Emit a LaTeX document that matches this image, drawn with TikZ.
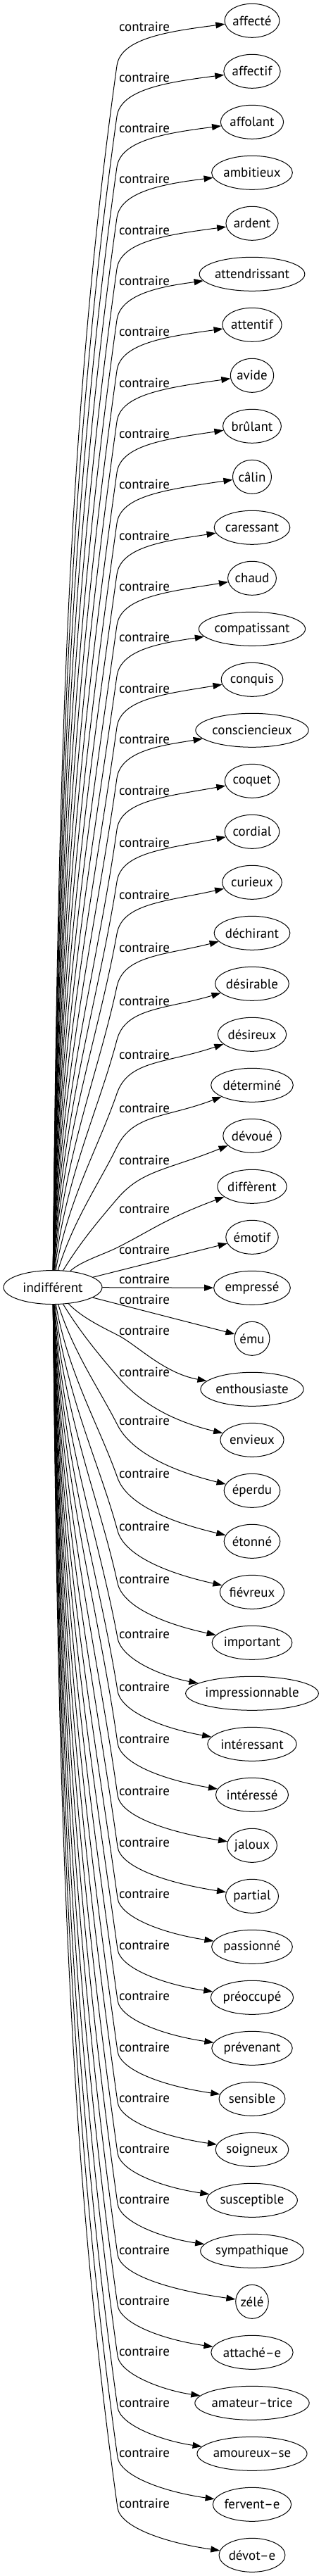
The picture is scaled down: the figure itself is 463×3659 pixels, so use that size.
\documentclass[tikz,border=0pt]{standalone}
\usepackage{fontspec}
\setmainfont{PT Sans}
\usetikzlibrary{shapes.geometric,arrows.meta}
\newlength\qcw
\newlength\qtw
\newcommand\qfont{\fontsize{\qfs}{\qfs}\selectfont}
\tikzset{
  tgt/.style={draw, ellipse, inner sep=0pt, minimum height=48pt, line width=1pt, font=\qfont},
  lbl/.style={inner sep=0pt, font=\qfont},
  edge/.style={line width=1pt, -{Triangle[length=13pt,width=9pt]}},
}
\newcommand\tnode[3]{%
  \settowidth\qtw{\qfont #3}%
  \pgfmathsetmacro\qew{1.19*\qtw+36.5}%
  \node[tgt, minimum width=\qew pt] (#1) at (358,#2) {#3};%
}
\newcommand\upedge[4]{%
  \pgfmathsetmacro\qKy{#3+55}%
  \pgfmathsetmacro\qD{1804.5-\qKy}%
  \pgfmathsetmacro\qg{min(1,120/\qD)}%
  \pgfmathsetmacro\qs{min(2,max(0.14,86/\qD))}%
  \pgfmathsetmacro\qh{0.3*\qD}%
  \pgfmathsetmacro\qax{80+34.4*\qg}%
  \pgfmathsetmacro\qay{1804.5-0.4*\qD}%
  \pgfmathsetmacro\qbx{166-\qs*\qh}%
  \pgfmathsetmacro\qby{\qKy+\qh}%
  \pgfmathsetmacro\qd{0.6*(\qKy-#2)}%
  \pgfmathsetmacro\qn{sqrt(1+\qs*\qs)}%
  \pgfmathsetmacro\qcx{166+\qd*\qs/\qn}%
  \pgfmathsetmacro\qcy{\qKy-\qd/\qn}%
  \pgfmathsetmacro\qty{#3+4+0.3*(#3-#2)}%
  \draw[edge] (c) .. controls (\qax,\qay) and (\qbx,\qby) .. (166,\qKy) .. controls (\qcx,\qcy) and (235,\qty) .. (#1);%
  \node[lbl] (#4) at (205,#3) {contraire};%
}
\newcommand\downedge[4]{%
  \pgfmathsetmacro\qKy{#3+6}%
  \pgfmathsetmacro\qD{\qKy-1852.5}%
  \pgfmathsetmacro\qg{min(1,120/\qD)}%
  \pgfmathsetmacro\qs{min(2,max(0.14,87/\qD))}%
  \pgfmathsetmacro\qh{0.3*\qD}%
  \pgfmathsetmacro\qax{80+34.8*\qg}%
  \pgfmathsetmacro\qay{1852.5+0.4*\qD}%
  \pgfmathsetmacro\qbx{167-\qs*\qh}%
  \pgfmathsetmacro\qby{\qKy-\qh}%
  \pgfmathsetmacro\qd{0.4*(#2-\qKy)}%
  \pgfmathsetmacro\qn{sqrt(1+\qs*\qs)}%
  \pgfmathsetmacro\qcx{167+\qd*\qs/\qn}%
  \pgfmathsetmacro\qcy{\qKy+\qd/\qn}%
  \pgfmathsetmacro\qty{#2-18-0.5*max(0,#2-#3-73)}%
  \draw[edge] (c) .. controls (\qax,\qay) and (\qbx,\qby) .. (167,\qKy) .. controls (\qcx,\qcy) and (232,\qty) .. (#1);%
  \node[lbl] (#4) at (205,#3) {contraire};%
}
\begin{document}
\settowidth\qcw{\fontsize{10}{12}\selectfont contraire}%
\pgfmathsetmacro\qfs{720/\qcw}%
\begin{tikzpicture}[x=1pt,y=-1pt]
\fill[white] (0,0) rectangle (463,3659);
\useasboundingbox (0,0) rectangle (463,3659);
\node[tgt, minimum width=140pt] (c) at (75,1828.5) {indifférent};
\tnode{t1}{29.3}{affecté}
\tnode{t2}{101.3}{affectif}
\tnode{t3}{173.3}{affolant}
\tnode{t4}{245.3}{ambitieux}
\tnode{t5}{317.3}{ardent}
\tnode{t6}{389.3}{attendrissant}
\tnode{t7}{461.3}{attentif}
\tnode{t8}{533.3}{avide}
\tnode{t9}{605.3}{brûlant}
\tnode{t10}{677.3}{câlin}
\tnode{t11}{749.3}{caressant}
\tnode{t12}{821.3}{chaud}
\tnode{t13}{893.3}{compatissant}
\tnode{t14}{965.3}{conquis}
\tnode{t15}{1037.3}{consciencieux}
\tnode{t16}{1109.3}{coquet}
\tnode{t17}{1181.3}{cordial}
\tnode{t18}{1253.3}{curieux}
\tnode{t19}{1325.3}{déchirant}
\tnode{t20}{1397.3}{désirable}
\tnode{t21}{1469.3}{désireux}
\tnode{t22}{1541.3}{déterminé}
\tnode{t23}{1613.3}{dévoué}
\tnode{t24}{1685.3}{diffèrent}
\tnode{t25}{1757.3}{émotif}
\tnode{t26}{1829.3}{empressé}
\tnode{t27}{1901.3}{ému}
\tnode{t28}{1973.3}{enthousiaste}
\tnode{t29}{2045.3}{envieux}
\tnode{t30}{2117.3}{éperdu}
\tnode{t31}{2189.3}{étonné}
\tnode{t32}{2261.3}{fiévreux}
\tnode{t33}{2333.3}{important}
\tnode{t34}{2405.3}{impressionnable}
\tnode{t35}{2477.3}{intéressant}
\tnode{t36}{2549.3}{intéressé}
\tnode{t37}{2621.3}{jaloux}
\tnode{t38}{2693.3}{partial}
\tnode{t39}{2765.3}{passionné}
\tnode{t40}{2837.3}{préoccupé}
\tnode{t41}{2909.3}{prévenant}
\tnode{t42}{2981.3}{sensible}
\tnode{t43}{3053.3}{soigneux}
\tnode{t44}{3125.3}{susceptible}
\tnode{t45}{3197.3}{sympathique}
\tnode{t46}{3269.3}{zélé}
\tnode{t47}{3341.3}{attaché–e}
\tnode{t48}{3413.3}{amateur–trice}
\tnode{t49}{3485.3}{amoureux–se}
\tnode{t50}{3557.3}{fervent–e}
\tnode{t51}{3629.3}{dévot–e}
\upedge{t1}{29.3}{38.3}{l1}
\upedge{t2}{101.3}{110.3}{l2}
\upedge{t3}{173.3}{182.3}{l3}
\upedge{t4}{245.3}{254.3}{l4}
\upedge{t5}{317.3}{326.8}{l5}
\upedge{t6}{389.3}{399.3}{l6}
\upedge{t7}{461.3}{471.3}{l7}
\upedge{t8}{533.3}{543.8}{l8}
\upedge{t9}{605.3}{616.3}{l9}
\upedge{t10}{677.3}{688.3}{l10}
\upedge{t11}{749.3}{760.8}{l11}
\upedge{t12}{821.3}{833.3}{l12}
\upedge{t13}{893.3}{905.3}{l13}
\upedge{t14}{965.3}{977.8}{l14}
\upedge{t15}{1037.3}{1050.3}{l15}
\upedge{t16}{1109.3}{1123.3}{l16}
\upedge{t17}{1181.3}{1197.3}{l17}
\upedge{t18}{1253.3}{1271.3}{l18}
\upedge{t19}{1325.3}{1346.3}{l19}
\upedge{t20}{1397.3}{1422.3}{l20}
\upedge{t21}{1469.3}{1498.3}{l21}
\upedge{t22}{1541.3}{1574.3}{l22}
\upedge{t23}{1613.3}{1648.3}{l23}
\upedge{t24}{1685.3}{1717.3}{l24}
\draw[edge] (c) -- (t25);
\node[lbl] (l25) at (205,1775.3) {contraire};
\draw[edge] (c) -- (t26);
\node[lbl] (l26) at (205,1817.3) {contraire};
\draw[edge] (c) -- (t27);
\node[lbl] (l27) at (205,1846.3) {contraire};
\downedge{t28}{1973.3}{1890.3}{l28}
\downedge{t29}{2045.3}{1949.3}{l29}
\downedge{t30}{2117.3}{2018.3}{l30}
\downedge{t31}{2189.3}{2093.3}{l31}
\downedge{t32}{2261.3}{2168.3}{l32}
\downedge{t33}{2333.3}{2242.7}{l33}
\downedge{t34}{2405.3}{2320.7}{l34}
\downedge{t35}{2477.3}{2395.7}{l35}
\downedge{t36}{2549.3}{2470.0}{l36}
\downedge{t37}{2621.3}{2544.0}{l37}
\downedge{t38}{2693.3}{2617.3}{l38}
\downedge{t39}{2765.3}{2690.3}{l39}
\downedge{t40}{2837.3}{2762.8}{l40}
\downedge{t41}{2909.3}{2835.3}{l41}
\downedge{t42}{2981.3}{2907.8}{l42}
\downedge{t43}{3053.3}{2979.8}{l43}
\downedge{t44}{3125.3}{3052.3}{l44}
\downedge{t45}{3197.3}{3124.3}{l45}
\downedge{t46}{3269.3}{3196.3}{l46}
\downedge{t47}{3341.3}{3268.3}{l47}
\downedge{t48}{3413.3}{3340.3}{l48}
\downedge{t49}{3485.3}{3413.3}{l49}
\downedge{t50}{3557.3}{3484.3}{l50}
\downedge{t51}{3629.3}{3556.3}{l51}
\end{tikzpicture}
\end{document}
